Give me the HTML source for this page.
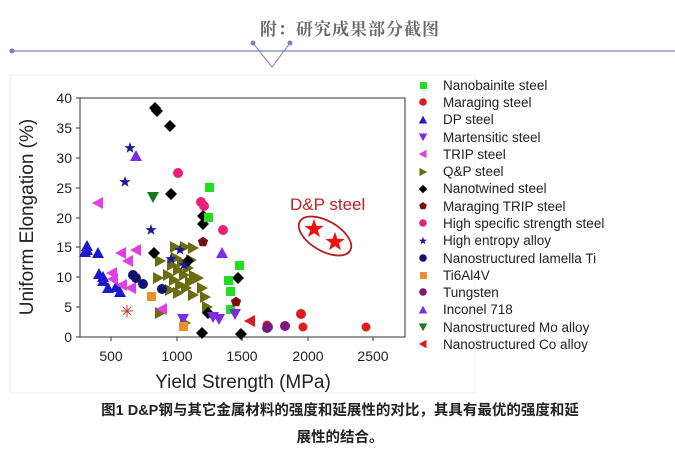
<!DOCTYPE html>
<html><head><meta charset="utf-8"><style>
body{margin:0;width:675px;height:447px;background:#fff;overflow:hidden;position:relative;font-family:"Liberation Sans","Noto Sans CJK SC",sans-serif}
.hd{position:absolute;top:15px;left:0;width:700px;text-align:center;font-family:"Liberation Serif","Noto Serif CJK SC",serif;font-weight:bold;font-size:17px;color:#6a6a6a;letter-spacing:1px}
.cap{position:absolute;top:398px;left:20px;width:640px;text-align:center;font-weight:bold;font-size:14.5px;line-height:27px;color:#222}
</style></head><body>
<div class="hd">附：研究成果部分截图</div>
<svg width="675" height="447" style="position:absolute;left:0;top:0">
<line x1="12" y1="51" x2="675" y2="51" stroke="#7a80c4" stroke-width="1.2"/>
<circle cx="12" cy="51" r="2.5" fill="#7a80c4"/>
<polyline points="253,43 272,67 290,43" fill="none" stroke="#7a80c4"/>
<circle cx="253" cy="43" r="2.5" fill="#7a80c4"/><circle cx="290" cy="43" r="2.5" fill="#7a80c4"/>
<rect x="10" y="75" width="465" height="318" fill="#fff" stroke="#eee"/>
<rect x="80" y="98" width="325" height="239" fill="none" stroke="#333" stroke-width="1"/>
<g stroke="#333">
<line x1="80" y1="337" x2="76" y2="337"/><line x1="80" y1="307" x2="76" y2="307"/><line x1="80" y1="277" x2="76" y2="277"/><line x1="80" y1="247" x2="76" y2="247"/><line x1="80" y1="218" x2="76" y2="218"/><line x1="80" y1="188" x2="76" y2="188"/><line x1="80" y1="158" x2="76" y2="158"/><line x1="80" y1="128" x2="76" y2="128"/><line x1="80" y1="98" x2="76" y2="98"/>
<line x1="111" y1="337" x2="111" y2="341"/><line x1="177" y1="337" x2="177" y2="341"/><line x1="242" y1="337" x2="242" y2="341"/><line x1="308" y1="337" x2="308" y2="341"/><line x1="373" y1="337" x2="373" y2="341"/>
</g>
<g font-size="14" fill="#222" text-anchor="end">
<text x="72" y="342">0</text><text x="72" y="312">5</text><text x="72" y="282">10</text><text x="72" y="252">15</text><text x="72" y="223">20</text><text x="72" y="193">25</text><text x="72" y="163">30</text><text x="72" y="133">35</text><text x="72" y="103">40</text>
</g>
<g font-size="14" fill="#222" text-anchor="middle">
<text x="111" y="361">500</text><text x="177" y="361">1000</text><text x="242" y="361">1500</text><text x="308" y="361">2000</text><text x="373" y="361">2500</text>
</g>
<text x="243" y="388" font-size="19" text-anchor="middle" fill="#222">Yield Strength (MPa)</text>
<text transform="translate(33,217) rotate(-90)" font-size="19" text-anchor="middle" fill="#222">Uniform Elongation (%)</text>
<defs>
<path id="tu" d="M0,-6 L6,5 L-6,5Z"/><path id="td" d="M0,6 L6,-5 L-6,-5Z"/>
<path id="tl" d="M-6,0 L5,-6 L5,6Z"/><path id="tr" d="M6,0 L-5,-6 L-5,6Z"/>
<path id="dm" d="M0,-6 L6,0 L0,6 L-6,0Z"/>
<path id="st" d="M0,-6 L1.4,-1.9 L5.7,-1.8 L2.3,0.7 L3.5,4.8 L0,2.4 L-3.5,4.8 L-2.3,0.7 L-5.7,-1.8 L-1.4,-1.9Z"/>
<path id="pg" d="M0,-5.4 L5.2,-1.7 L3.1,4.3 L-3.1,4.3 L-5.2,-1.7Z"/>
</defs>
<g fill="#6b6b10">
<use href="#tr" x="160" y="261"/><use href="#tr" x="158" y="278"/><use href="#tr" x="193" y="295"/><use href="#tr" x="202" y="288"/><use href="#tr" x="205" y="297"/><use href="#tr" x="207" y="307"/><use href="#tr" x="160" y="313"/><use href="#tr" x="185" y="323"/><use href="#tr" x="175" y="247"/><use href="#tr" x="185" y="247"/><use href="#tr" x="193" y="248"/>
<use href="#tr" x="172" y="265"/><use href="#tr" x="178" y="270"/><use href="#tr" x="184" y="275"/><use href="#tr" x="190" y="282"/><use href="#tr" x="174" y="280"/><use href="#tr" x="180" y="285"/><use href="#tr" x="170" y="290"/><use href="#tr" x="188" y="268"/><use href="#tr" x="194" y="276"/><use href="#tr" x="176" y="258"/><use href="#tr" x="182" y="262"/><use href="#tr" x="168" y="275"/><use href="#tr" x="186" y="288"/><use href="#tr" x="178" y="293"/><use href="#tr" x="191" y="260"/><use href="#tr" x="198" y="278"/>
</g>
<g fill="#000"><use href="#dm" x="155" y="108"/><use href="#dm" x="157" y="111"/><use href="#dm" x="170" y="126"/><use href="#dm" x="171" y="194"/><use href="#dm" x="203" y="216"/><use href="#dm" x="203" y="224"/><use href="#dm" x="154" y="253"/><use href="#dm" x="188" y="261"/><use href="#dm" x="238" y="278"/><use href="#dm" x="208" y="313"/><use href="#dm" x="202" y="333"/><use href="#dm" x="241" y="334"/></g>
<g fill="#22dd22"><rect x="205" y="183" width="9" height="9"/><rect x="204" y="213" width="9" height="9"/><rect x="235" y="261" width="9" height="9"/><rect x="224" y="276" width="9" height="9"/><rect x="226" y="287" width="9" height="9"/><rect x="226" y="305" width="9" height="9"/></g>
<g fill="#dd1c1c"><circle cx="301" cy="314" r="5"/><circle cx="303" cy="327" r="4.5"/><circle cx="366" cy="327" r="4.5"/><circle cx="267" cy="325" r="4.5"/></g>
<g fill="#1a1acc"><use href="#tu" x="87" y="246"/><use href="#tu" x="87" y="250"/><use href="#tu" x="98" y="253"/><use href="#tu" x="99" y="274"/><use href="#tu" x="103" y="277"/><use href="#tu" x="103" y="281"/><use href="#tu" x="108" y="288"/><use href="#tu" x="116" y="287"/><use href="#tu" x="120" y="292"/><use href="#tu" x="85" y="252"/></g>
<g fill="#e040e0"><use href="#tl" x="98" y="203"/><use href="#tl" x="121" y="253"/><use href="#tl" x="128" y="261"/><use href="#tl" x="136" y="250"/><use href="#tl" x="112" y="273"/><use href="#tl" x="113" y="279"/><use href="#tl" x="122" y="285"/><use href="#tl" x="131" y="288"/><use href="#tl" x="162" y="309"/></g>
<g fill="#1a1a99"><use href="#st" x="130" y="148"/><use href="#st" x="125" y="182"/><use href="#st" x="151" y="230"/><use href="#st" x="171" y="259"/><use href="#st" x="180" y="250"/><use href="#st" x="184" y="265"/></g>
<g fill="#7a2ee0"><use href="#tu" x="136" y="156"/><use href="#tu" x="222" y="253"/><use href="#td" x="213" y="317"/><use href="#td" x="219" y="319"/><use href="#td" x="235" y="314"/><use href="#td" x="183" y="319"/></g>
<g fill="#e8207a"><circle cx="178" cy="173" r="5"/><circle cx="201" cy="202" r="5"/><circle cx="204" cy="206" r="5"/><circle cx="223" cy="230" r="5"/></g>
<g fill="#7a0e0e"><use href="#pg" x="203" y="242"/><use href="#pg" x="236" y="302"/></g>
<g fill="#111170"><circle cx="133" cy="275" r="5"/><circle cx="136" cy="278" r="5"/><circle cx="143" cy="284" r="5"/><circle cx="162" cy="289" r="5"/></g>
<g fill="#e8902a"><rect x="147" y="292" width="9" height="9"/><rect x="179" y="322" width="9" height="9"/></g>
<g fill="#7a1a7a"><circle cx="267" cy="328" r="5"/><circle cx="268" cy="327" r="5"/><circle cx="285" cy="326" r="5"/></g>
<use href="#td" x="153" y="197" fill="#1a7a1a"/>
<use href="#tl" x="250" y="321" fill="#dd1c1c"/>
<g stroke="#c04040" stroke-width="1"><line x1="121" y1="311" x2="133" y2="311"/><line x1="127" y1="305" x2="127" y2="317"/><line x1="123" y1="307" x2="131" y2="315"/><line x1="131" y1="307" x2="123" y2="315"/></g>
<ellipse cx="325" cy="236" rx="29" ry="15" transform="rotate(30 325 236)" fill="none" stroke="#b02020" stroke-width="1.8"/>
<use href="#st" transform="translate(314,229) scale(1.7)" fill="#ee1111"/>
<use href="#st" transform="translate(335,242) scale(1.7)" fill="#ee1111"/>
<text x="290" y="210" font-size="17" fill="#c02020">D&amp;P steel</text>
<g font-size="13.5" fill="#222">
<rect x="420" y="82" width="7" height="7" fill="#22dd22"/><text x="443" y="90">Nanobainite steel</text>
<circle cx="423" cy="102" r="3.8" fill="#dd1c1c"/><text x="443" y="107">Maraging steel</text>
<use href="#tu" transform="translate(423,120) scale(0.7)" fill="#1a1acc"/><text x="443" y="124">DP steel</text>
<use href="#td" transform="translate(423,137) scale(0.7)" fill="#7a2ee0"/><text x="443" y="142">Martensitic steel</text>
<use href="#tl" transform="translate(423,154) scale(0.7)" fill="#e040e0"/><text x="443" y="159">TRIP steel</text>
<use href="#tr" transform="translate(423,172) scale(0.7)" fill="#6b6b10"/><text x="443" y="176">Q&amp;P steel</text>
<use href="#dm" transform="translate(423,189) scale(0.7)" fill="#000"/><text x="443" y="193">Nanotwined steel</text>
<use href="#pg" transform="translate(423,206) scale(0.75)" fill="#7a0e0e"/><text x="443" y="211">Maraging TRIP steel</text>
<circle cx="423" cy="223" r="3.8" fill="#e8207a"/><text x="443" y="228">High specific strength steel</text>
<use href="#st" transform="translate(423,241) scale(0.7)" fill="#1a1a99"/><text x="443" y="245">High entropy alloy</text>
<circle cx="423" cy="258" r="3.8" fill="#111170"/><text x="443" y="263">Nanostructured lamella Ti</text>
<rect x="420" y="272" width="7" height="7" fill="#e8902a"/><text x="443" y="280">Ti6Al4V</text>
<circle cx="423" cy="292" r="3.8" fill="#7a1a7a"/><text x="443" y="297">Tungsten</text>
<use href="#tu" transform="translate(423,310) scale(0.7)" fill="#7a2ee0"/><text x="443" y="314">Inconel 718</text>
<use href="#td" transform="translate(423,327) scale(0.7)" fill="#1a7a1a"/><text x="443" y="332">Nanostructured Mo alloy</text>
<use href="#tl" transform="translate(423,344) scale(0.7)" fill="#dd1c1c"/><text x="443" y="349">Nanostructured Co alloy</text>
</g>
</svg>
<div class="cap">图1 D&amp;P钢与其它金属材料的强度和延展性的对比，其具有最优的强度和延<br>展性的结合。</div>
</body></html>
